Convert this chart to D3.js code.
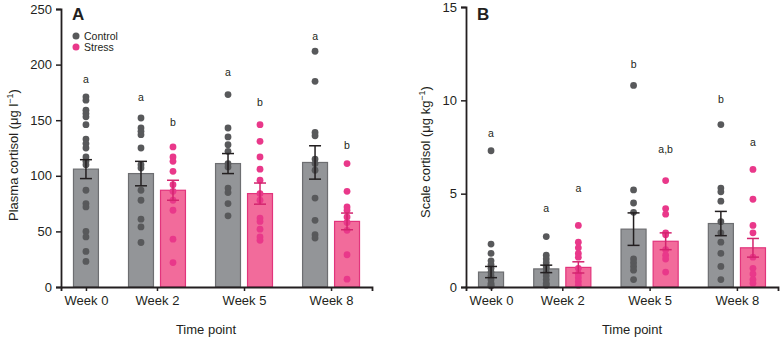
<!DOCTYPE html>
<html>
<head>
<meta charset="utf-8">
<script src="https://cdn.jsdelivr.net/npm/d3@7"></script>
<style>
  body { margin: 0; background: #fff; }
  svg { display: block; font-family: "Liberation Sans", Arial, sans-serif; }
</style>
</head>
<body>
<div id="chart"></div>
<script>
// categories
const weeks = ["Week 0", "Week 2", "Week 5", "Week 8"];
const groups = ["Control", "Stress"];

// panel A: plasma cortisol (ug l-1)
const plasmaControlMean = [106, 102, 111, 112];
const plasmaControlSem = [8.5, 11, 9, 15];
const plasmaStressMean = [null, 87, 84, 59];
const plasmaStressSem = [null, 9, 9.5, 7.5];
const plasmaControlPoints = [
  [171, 168, 159, 156, 153, 146, 133, 129, 125, 117, 113, 110, 87, 75, 72, 50, 45, 32, 23],
  [152, 143, 140, 137, 125, 110, 107, 87, 78, 61, 54, 40],
  [173, 143, 135, 128, 122, 111, 108, 89, 85, 75, 64],
  [212, 185, 139, 136, 115, 111, 105, 80, 60, 47, 44]
];
const plasmaStressPoints = [
  [],
  [126, 117, 113, 104, 92, 86, 78, 69, 43, 22],
  [146, 131, 117, 106, 96, 84, 78, 62, 59, 52, 45, 42],
  [111, 86, 72, 69, 63, 58, 51, 29, 7]
];
const plasmaControlLetters = ["a", "a", "a", "a"];
const plasmaStressLetters = [null, "b", "b", "b"];
const plasmaControlLetterAt = [187, 171, 193, 226];
const plasmaStressLetterAt = [null, 148, 166, 128];
const plasmaTicks = [0, 50, 100, 150, 200, 250];

// panel B: scale cortisol (ug kg-1)
const scaleControlMean = [0.8, 0.97, 3.1, 3.4];
const scaleControlSem = [0.3, 0.2, 0.87, 0.65];
const scaleStressMean = [null, 1.05, 2.45, 2.1];
const scaleStressSem = [null, 0.3, 0.45, 0.5];
const scaleControlPoints = [
  [7.3, 2.3, 1.8, 1.4, 1.2, 1.0, 0.8, 0.6, 0.4, 0.2, 0.1, 0.05],
  [2.7, 1.7, 1.5, 1.3, 1.1, 1.0, 0.8, 0.6, 0.4, 0.2, 0.1],
  [10.8, 5.2, 4.5, 4.0, 1.5, 1.3, 1.1, 0.9, 0.4],
  [8.7, 5.3, 5.1, 4.6, 3.5, 2.9, 2.4, 1.8, 1.1, 0.4]
];
const scaleStressPoints = [
  [],
  [3.3, 2.4, 2.1, 1.8, 1.6, 1.0, 0.7, 0.5, 0.3, 0.1],
  [5.7, 4.2, 3.9, 2.9, 2.8, 2.0, 1.7, 1.5, 0.8],
  [6.3, 4.7, 3.3, 2.9, 1.6, 1.0, 0.7, 0.4, 0.2]
];
const scaleControlLetters = ["a", "a", "b", "b"];
const scaleStressLetters = [null, "a", "a,b", "a"];
const scaleControlLetterAt = [8.26, 4.22, 11.94, 10.05];
const scaleStressLetterAt = [null, 5.29, 7.38, 7.78];
const scaleTicks = [0, 5, 10, 15];

const colors = {
  Control: { fill: "#939598", stroke: "#6d6e71", dot: "#58595b", err: "#231f20" },
  Stress: { fill: "#f26b9b", stroke: "#e2347c", dot: "#e9388a", err: "#d3246e" }
};
const ink = "#231f20";

const svg = d3.select("#chart").append("svg")
  .attr("width", 780)
  .attr("height", 337);

function drawPanel(p) {
  const g = svg.append("g");

  // lay out one slot per bar, with a gap between weeks
  const gapUnits = 0.72;
  const bars = [];
  const weekCenters = [];
  let pos = 0;
  weeks.forEach((w, i) => {
    const present = groups.filter(s => p.mean[s][i] != null);
    if (i > 0) pos += gapUnits;
    const start = pos;
    present.forEach(s => {
      bars.push({
        week: i, series: s, at: pos + 0.5,
        mean: p.mean[s][i], sem: p.sem[s][i],
        points: p.points[s][i],
        letter: p.letters[s][i], letterAt: p.letterAt[s][i]
      });
      pos += 1;
    });
    weekCenters.push((start + pos) / 2);
  });

  const x = d3.scaleLinear()
    .domain([-0.28, pos + 0.28])
    .range([p.left, p.right]);
  const y = d3.scaleLinear()
    .domain([0, p.ticks[p.ticks.length - 1]])
    .range([287, p.top]);
  const slot = x(1) - x(0);
  const barW = slot * 0.78;

  // bars
  g.selectAll("rect.bar")
    .data(bars)
    .join("rect")
    .attr("x", d => x(d.at) - barW / 2)
    .attr("y", d => y(d.mean))
    .attr("width", barW)
    .attr("height", d => y(0) - y(d.mean))
    .attr("fill", d => colors[d.series].fill)
    .attr("stroke", d => colors[d.series].stroke)
    .attr("stroke-width", 1.2);

  // individual fish
  const dots = bars.flatMap(b => b.points.map(v => ({ series: b.series, at: b.at, v })));
  g.selectAll("circle.dot")
    .data(dots)
    .join("circle")
    .attr("cx", d => x(d.at))
    .attr("cy", d => y(d.v))
    .attr("r", 3.4)
    .attr("fill", d => colors[d.series].dot);

  // error bars (sem)
  const err = g.selectAll("g.err")
    .data(bars)
    .join("g")
    .attr("stroke", d => colors[d.series].err)
    .attr("stroke-width", 1.5);
  err.append("line")
    .attr("x1", d => x(d.at)).attr("x2", d => x(d.at))
    .attr("y1", d => y(d.mean + d.sem)).attr("y2", d => y(d.mean - d.sem));
  [1, -1].forEach(sign => {
    err.append("line")
      .attr("x1", d => x(d.at) - 6).attr("x2", d => x(d.at) + 6)
      .attr("y1", d => y(d.mean + sign * d.sem)).attr("y2", d => y(d.mean + sign * d.sem));
  });

  // significance letters
  g.selectAll("text.sig")
    .data(bars)
    .join("text")
    .attr("x", d => x(d.at))
    .attr("y", d => y(d.letterAt))
    .attr("text-anchor", "middle")
    .attr("dominant-baseline", "central")
    .attr("font-size", 10.5)
    .attr("fill", ink)
    .text(d => d.letter);

  // axes
  const xAxis = g.append("g")
    .attr("transform", `translate(0,${y(0)})`)
    .call(d3.axisBottom(x)
      .tickValues(weekCenters)
      .tickFormat((d, i) => weeks[i])
      .tickSizeOuter(0)
      .tickSize(4)
      .tickPadding(5));
  const yAxis = g.append("g")
    .attr("transform", `translate(${p.left},0)`)
    .call(d3.axisLeft(y)
      .tickValues(p.ticks)
      .tickSizeOuter(0)
      .tickSize(5)
      .tickPadding(4));
  [xAxis, yAxis].forEach(a => {
    a.select(".domain").attr("stroke", ink).attr("stroke-width", 1.8);
    a.selectAll(".tick line").attr("stroke", ink).attr("stroke-width", 1.5);
    a.selectAll(".tick text").attr("fill", ink).attr("font-size", 13)
      .attr("font-family", "'Liberation Sans', Arial, sans-serif");
  });

  // axis titles
  g.append("text")
    .attr("x", p.xTitleAt)
    .attr("y", 334)
    .attr("text-anchor", "middle")
    .attr("font-size", 13)
    .attr("fill", ink)
    .text("Time point");

  const yt = g.append("text")
    .attr("transform", `translate(${p.yTitleX},${p.yTitleY}) rotate(-90)`)
    .attr("text-anchor", "middle")
    .attr("font-size", 13)
    .attr("fill", ink);
  yt.append("tspan").text(p.yTitle);
  yt.append("tspan").attr("dy", -5).attr("font-size", 9).text("\u22121");
  yt.append("tspan").attr("dy", 5).text(")");

  // panel letter
  g.append("text")
    .attr("x", p.left + 11)
    .attr("y", 19.5)
    .attr("font-size", 17)
    .attr("font-weight", "bold")
    .attr("fill", ink)
    .text(p.label);

  return { x, y };
}

drawPanel({
  label: "A",
  left: 61, right: 372, top: 9,
  ticks: plasmaTicks,
  mean: { Control: plasmaControlMean, Stress: plasmaStressMean },
  sem: { Control: plasmaControlSem, Stress: plasmaStressSem },
  points: { Control: plasmaControlPoints, Stress: plasmaStressPoints },
  letters: { Control: plasmaControlLetters, Stress: plasmaStressLetters },
  letterAt: { Control: plasmaControlLetterAt, Stress: plasmaStressLetterAt },
  yTitle: "Plasma cortisol (\u03bcg l",
  yTitleX: 18, yTitleY: 155,
  xTitleAt: 206
});

drawPanel({
  label: "B",
  left: 466, right: 778, top: 7,
  ticks: scaleTicks,
  mean: { Control: scaleControlMean, Stress: scaleStressMean },
  sem: { Control: scaleControlSem, Stress: scaleStressSem },
  points: { Control: scaleControlPoints, Stress: scaleStressPoints },
  letters: { Control: scaleControlLetters, Stress: scaleStressLetters },
  letterAt: { Control: scaleControlLetterAt, Stress: scaleStressLetterAt },
  yTitle: "Scale cortisol (\u03bcg kg",
  yTitleX: 430, yTitleY: 152,
  xTitleAt: 632
});

// legend (panel A)
const legend = svg.append("g")
  .selectAll("g")
  .data(groups)
  .join("g")
  .attr("transform", (d, i) => `translate(76,${36 + i * 11})`);
legend.append("circle")
  .attr("r", 3.5)
  .attr("fill", d => colors[d].dot);
legend.append("text")
  .attr("x", 8)
  .attr("dominant-baseline", "central")
  .attr("font-size", 10.5)
  .attr("fill", ink)
  .text(d => d);
</script>
</body>
</html>
